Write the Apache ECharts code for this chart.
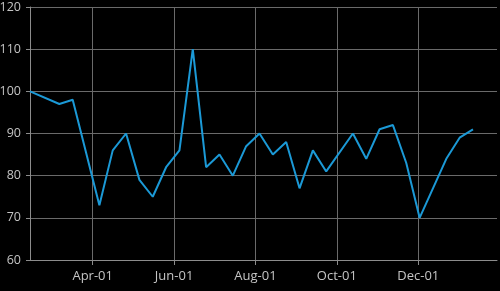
<!DOCTYPE html>
<html>
<head>
  <meta charset="UTF-8">
  <title>line chart</title>
  <script src="https://cdn.jsdelivr.net/npm/echarts@6/dist/echarts.min.js"></script>
  <style>
    html, body { margin: 0; padding: 0; background-color: #000; }
    #main { width: 500px; height: 291px; }
  </style>
</head>
<body>
<div id="main"></div>
<script>
  // data (10-day samples)
  var dates = ['2001-02-13', '2001-03-07', '2001-03-17', '2001-04-06', '2001-04-16', '2001-04-26',
    '2001-05-06', '2001-05-16', '2001-05-26', '2001-06-05', '2001-06-15', '2001-06-25',
    '2001-07-05', '2001-07-15', '2001-07-25', '2001-08-04', '2001-08-14', '2001-08-24',
    '2001-09-03', '2001-09-13', '2001-09-23', '2001-10-13', '2001-10-23', '2001-11-02',
    '2001-11-12', '2001-11-22', '2001-12-02', '2001-12-22', '2002-01-01', '2002-01-11'];
  var values = [100, 97, 98, 73, 86, 90,
    79, 75, 82, 86, 110, 82,
    85, 80, 87, 90, 85, 88,
    77, 86, 81, 90, 84, 91,
    92, 83, 70, 84, 89, 91];
  var tickDates = ['2001-04-01', '2001-06-01', '2001-08-01', '2001-10-01', '2001-12-01'];
  var monthNames = ['Jan', 'Feb', 'Mar', 'Apr', 'May', 'Jun', 'Jul', 'Aug', 'Sep', 'Oct', 'Nov', 'Dec'];

  // dates -> day numbers, so a plain value axis can hold them
  var toDay = function (s) {
    var p = s.split('-');
    return Date.UTC(+p[0], +p[1] - 1, +p[2]) / 86400000;
  };
  var tickValues = tickDates.map(toDay);
  var seriesData = dates.map(function (d, i) { return [toDay(d), values[i]]; });

  var chart = echarts.init(document.getElementById('main'), null, { renderer: 'canvas' });
  var option = {
    backgroundColor: '#000',
    animation: false,
    grid: { left: 30, right: 3, top: 7, bottom: 31, containLabel: false, outerBoundsMode: 'none' },
    xAxis: {
      type: 'value',
      min: toDay('2001-02-13'),
      max: toDay('2002-01-29'),
      axisLine: { show: true, lineStyle: { color: '#8c8c8c', width: 1 } },
      axisTick: { show: true, length: 5, lineStyle: { color: '#8c8c8c' }, customValues: tickValues },
      axisLabel: {
        customValues: tickValues,
        color: '#c4c4c4',
        fontSize: 13,
        fontFamily: 'Segoe UI, Open Sans, sans-serif',
        margin: 10,
        formatter: function (v) {
          var d = new Date(v * 86400000);
          return monthNames[d.getUTCMonth()] + '-01';
        }
      },
      splitLine: { show: true, lineStyle: { color: '#6a6a6a', width: 1 } }
    },
    yAxis: {
      type: 'value',
      min: 60,
      max: 120,
      interval: 10,
      axisLine: { show: true, lineStyle: { color: '#8c8c8c', width: 1 } },
      axisTick: { show: true, length: 4, lineStyle: { color: '#8c8c8c' } },
      axisLabel: { color: '#c4c4c4', fontSize: 12.5, fontFamily: 'Segoe UI, Open Sans, sans-serif', margin: 9 },
      splitLine: { show: true, lineStyle: { color: '#6a6a6a', width: 1 } }
    },
    series: [{
      type: 'line',
      data: seriesData,
      showSymbol: false,
      lineStyle: { color: '#1b99d6', width: 2 },
      itemStyle: { color: '#1b99d6' }
    }]
  };
  chart.setOption(option);
</script>
</body>
</html>
